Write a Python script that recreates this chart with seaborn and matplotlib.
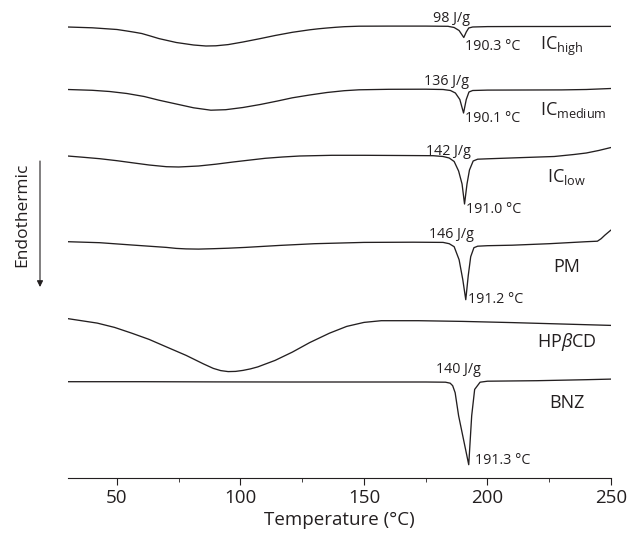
import numpy as np
import pandas as pd
import seaborn as sns
import matplotlib.pyplot as plt
from matplotlib.ticker import MultipleLocator

# DSC thermograms (heat flow in arbitrary units,
# relative to the first point of each trace, endothermic = negative)
samples = ['IC$_{\\mathrm{high}}$', 'IC$_{\\mathrm{medium}}$', 'IC$_{\\mathrm{low}}$',
           'PM', 'HP$\\beta$CD', 'BNZ']

t_high = [30, 40, 50, 54, 57, 60, 63.5, 67, 74, 81, 86, 90, 95, 101, 108, 114,
          121, 128, 131.5, 135, 138.5, 142, 148, 160, 175, 184, 186.5, 188.5,
          190.4, 191.4, 192.4, 194, 200, 215, 230, 250]
hf_high = [0, -0.08, -0.25, -0.4, -0.52, -0.65, -0.9, -1.16, -1.55, -1.8, -1.9,
           -1.88, -1.76, -1.5, -1.16, -0.85, -0.53, -0.28, -0.18, -0.1, -0.03,
           0.03, 0.08, 0.09, 0.09, 0.07, -0.05, -0.35, -1.05, -0.5, -0.1, 0.0,
           0.04, 0.05, 0.05, 0.06]

t_medium = [30, 40, 47, 54, 61, 67, 74, 81, 88, 94, 101, 108, 115, 121, 128, 135,
            142, 148, 160, 175, 182, 185, 187, 188.8, 190.3, 191.4, 192.5, 194,
            200, 215, 230, 240, 250]
hf_medium = [0, -0.08, -0.2, -0.4, -0.7, -1.07, -1.45, -1.83, -2.07, -2.02, -1.8,
             -1.5, -1.15, -0.83, -0.55, -0.3, -0.12, -0.03, 0.02, 0.03, 0, -0.1,
             -0.35, -1.0, -2.35, -1.0, -0.25, -0.1, -0.06, -0.05, -0.04, 0, 0.1]

t_low = [30, 36, 43, 50, 56, 63, 70, 75, 83, 90, 97, 104, 110, 117, 124, 137, 150,
         165, 178, 182, 184.5, 186.5, 188.3, 189.7, 190.7, 191.7, 192.7, 194.2,
         196, 200, 215, 227, 235, 240, 245, 250]
hf_low = [0, -0.12, -0.27, -0.47, -0.67, -0.9, -1.07, -1.1, -1.0, -0.82, -0.6,
          -0.4, -0.23, -0.1, 0, 0.07, 0.07, 0.05, 0.03, -0.05, -0.2, -0.55, -1.5,
          -2.8, -4.8, -2.8, -1.4, -0.5, -0.32, -0.28, -0.15, -0.05, 0.15, 0.3,
          0.55, 0.85]

t_pm = [30, 43, 56, 63, 70, 74, 78, 83, 89, 95, 102, 116, 130, 150, 170, 182,
        184.5, 186.5, 188.5, 190, 191.2, 192.2, 193.2, 194.5, 196, 200, 210, 225,
        240, 244.5, 246, 247.5, 250]
hf_pm = [0, -0.1, -0.33, -0.45, -0.57, -0.67, -0.72, -0.74, -0.7, -0.65, -0.57,
         -0.37, -0.2, -0.07, -0.05, -0.07, -0.2, -0.5, -1.8, -3.8, -5.8, -3.4,
         -1.5, -0.6, -0.45, -0.4, -0.35, -0.2, 0, 0.05, 0.3, 0.65, 1.17]

t_hpbcd = [30, 42, 49, 56, 63, 70, 78, 85, 89, 92, 95, 98, 101, 104, 107, 110,
           114, 121, 128, 136, 143, 150, 157, 172, 190, 210, 230, 250]
hf_hpbcd = [0, -0.45, -0.88, -1.46, -2.08, -2.83, -3.68, -4.53, -4.98, -5.2,
            -5.3, -5.28, -5.18, -5.03, -4.83, -4.55, -4.18, -3.35, -2.4, -1.46,
            -0.78, -0.38, -0.21, -0.21, -0.28, -0.4, -0.54, -0.68]

t_bnz = [30, 60, 90, 120, 150, 175, 183, 184.9, 185.9, 186.9, 188.3, 192.4,
         193.6, 194.8, 197, 200, 220, 240, 250]
hf_bnz = [0, 0, -0.02, -0.03, -0.03, -0.03, -0.05, -0.15, -0.4, -1.1, -3.4,
          -8.3, -3.4, -0.77, -0.05, 0.05, 0.1, 0.2, 0.26]

# stacking of the traces (same units)
offsets = [45.1, 38.85, 32.2, 23.63, 15.94, 9.63]

# enthalpy / peak annotations: (text, T, y)
enthalpy = [('98 J/g', 185.5, 45.97), ('136 J/g', 183.5, 39.63),
            ('142 J/g', 184.1, 32.63), ('146 J/g', 185.5, 24.3),
            ('140 J/g', 188.2, 10.8)]
peak_temp = [('190.3 °C', 190.9, 43.13), ('190.1 °C', 190.9, 35.97),
             ('191.0 °C', 191.3, 26.8), ('191.2 °C', 192.2, 17.8),
             ('191.3 °C', 194.9, 1.8)]
sample_pos = [(221.3, 43.13, 'left'), (221.3, 36.8, 'left'), (224.2, 30.13, 'left'),
              (232.1, 21.13, 'center'), (219.9, 13.63, 'left'), (225.0, 7.47, 'left')]

traces = [(t_high, hf_high), (t_medium, hf_medium), (t_low, hf_low),
          (t_pm, hf_pm), (t_hpbcd, hf_hpbcd), (t_bnz, hf_bnz)]

frames = []
for name, (t, hf), off in zip(samples, traces, offsets):
    frames.append(pd.DataFrame({'T': t, 'y': np.array(hf) + off, 'sample': name}))
df = pd.concat(frames, ignore_index=True)

sns.set_theme(style='white')
ink = '#231f20'
plt.rcParams['font.family'] = ['Open Sans', 'DejaVu Sans']
plt.rcParams['mathtext.fontset'] = 'custom'
plt.rcParams['mathtext.rm'] = 'Open Sans'
plt.rcParams['mathtext.it'] = 'Open Sans:italic'
plt.rcParams['text.color'] = ink

fig = plt.figure(figsize=(6.29, 5.38), dpi=100)
ax = fig.add_axes([67.6 / 629, 1 - 478 / 538, (611 - 67.6) / 629, 478 / 538])

sns.lineplot(data=df, x='T', y='y', units='sample', estimator=None, sort=False,
             color=ink, lw=0.95, ax=ax)

for txt, x, y in enthalpy:
    ax.text(x, y, txt, fontsize=10.3, ha='center', va='center')
for txt, x, y in peak_temp:
    ax.text(x, y, txt, fontsize=10.3, ha='left', va='center')
for name, (x, y, ha) in zip(samples, sample_pos):
    ax.text(x, y, name, fontsize=13, ha=ha, va='center')

ax.set_xlim(30, 250)
ax.set_ylim(0, 47.8)
for s in ['left', 'top', 'right']:
    ax.spines[s].set_visible(False)
ax.spines['bottom'].set_color(ink)
ax.spines['bottom'].set_linewidth(0.8)
ax.set_yticks([])
ax.set_ylabel('')
ax.xaxis.set_major_locator(MultipleLocator(50))
ax.xaxis.set_minor_locator(MultipleLocator(25))
ax.tick_params(axis='x', which='major', bottom=True, direction='out', length=5,
               width=0.8, color=ink, labelsize=13.5, labelcolor=ink, pad=3)
ax.tick_params(axis='x', which='minor', bottom=True, direction='out', length=3,
               width=0.6, color=ink)
ax.set_xlabel('Temperature (°C)', fontsize=13.5, color=ink, labelpad=3)

fig.text(22 / 629, 1 - 215 / 538, 'Endothermic', rotation=90, fontsize=12.5,
         ha='center', va='center', color=ink)
fig.add_artist(plt.Annotation('', xy=(40 / 629, 1 - 287 / 538),
                              xytext=(40 / 629, 1 - 161 / 538),
                              xycoords='figure fraction', textcoords='figure fraction',
                              arrowprops=dict(arrowstyle='-|>', lw=0.8, color=ink,
                                              mutation_scale=9, shrinkA=0, shrinkB=0)))

fig.savefig('out.png', dpi=100)
